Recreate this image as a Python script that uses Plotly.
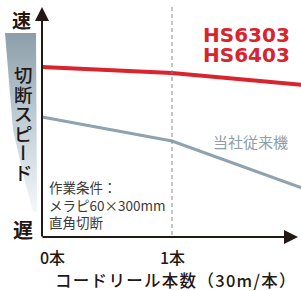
import plotly.graph_objects as go

# ---- data ----
reels = [0, 1, 2]
tick_labels = ["0本", "1本", "2本"]
new_speed = [74.9, 72.2, 67.0]      # HS6303 / HS6403
old_speed = [52.9, 42.3, 21.6]      # 当社従来機
series_names = ["HS6303", "HS6403"]
old_name = "当社従来機"
cond_lines = ["作業条件：", "メラピ60×300mm", "直角切断"]
y_title_chars = ["切", "断", "ス", "ピ", "ー", "ド"]
x_title = "コードリール本数（30m/本）"

RED = "#d9232d"
GRAY = "#8fa2b0"
INK = "#231815"
JP = "Noto Sans CJK JP"

W, H = 301, 291
fig = go.Figure()

# gradient wedge (decoration, pixel space)
fig.add_trace(go.Scatter(
    x=[5, 36, 37, 33, 25, 13, 5], y=[33, 33, 212, 212, 182, 130, 33],
    xaxis="x2", yaxis="y2", mode="lines", line=dict(width=0),
    fill="toself",
    fillgradient=dict(type="vertical",
                      colorscale=[[0, "#f5f8f9"], [0.55, "#bccad2"], [1, "#8c9eaa"]]),
    hoverinfo="skip", showlegend=False))

# data lines
fig.add_trace(go.Scatter(x=reels, y=old_speed, mode="lines",
                         line=dict(color=GRAY, width=3), showlegend=False,
                         hoverinfo="skip"))
fig.add_trace(go.Scatter(x=reels, y=new_speed, mode="lines",
                         line=dict(color=RED, width=4), showlegend=False,
                         hoverinfo="skip"))

# mapping: x=0 -> px 42, 130 px per reel; y=0 -> py 237, 2.27 px per unit
fig.update_layout(
    width=W, height=H, margin=dict(l=0, r=0, t=0, b=0),
    paper_bgcolor="white", plot_bgcolor="white",
    xaxis=dict(range=[-42 / 130, 259 / 130], visible=False, fixedrange=True),
    yaxis=dict(range=[-54 / 2.27, 237 / 2.27], visible=False, fixedrange=True),
    xaxis2=dict(range=[0, W], overlaying="x", visible=False, fixedrange=True),
    yaxis2=dict(range=[H, 0], overlaying="y", visible=False, fixedrange=True),
    showlegend=False,
)

shapes = [
    dict(type="line", xref="x", yref="y2", x0=reels[1], x1=reels[1], y0=7, y1=236,
         line=dict(color="#8a8a8a", width=1, dash="4px,3px")),
]
fig.update_layout(shapes=shapes)

ann = []
# axes arrows
ann.append(dict(xref="x2", yref="y2", axref="x2", ayref="y2", x=42, y=7, ax=42, ay=238,
                text="", showarrow=True, arrowhead=2, arrowsize=1.4, arrowwidth=2,
                arrowcolor=INK))
ann.append(dict(xref="x2", yref="y2", axref="x2", ayref="y2", x=298, y=237, ax=41, ay=237,
                text="", showarrow=True, arrowhead=2, arrowsize=1.4, arrowwidth=2,
                arrowcolor=INK))

# y axis words
ann.append(dict(xref="x2", yref="y2", x=21, y=19, text="速", showarrow=False,
                font=dict(family=JP, size=19, color=INK, weight=700)))
ann.append(dict(xref="x2", yref="y2", x=23, y=229, text="遅", showarrow=False,
                font=dict(family=JP, size=20, color=INK, weight=700)))

def big(ch, px, extra=""):
    return '<span style="font-size:%spx;%s">%s</span>' % (px, extra, ch)

vert_parts = []
for ch in y_title_chars:
    extra = "font-feature-settings:'vert' 1" if ch == "ー" else ""
    vert_parts.append(big(ch, 18.5, extra))
ann.append(dict(xref="x2", yref="y2", x=23, y=123, text="<br>".join(vert_parts),
                showarrow=False, yanchor="middle",
                font=dict(family=JP, size=15, color=INK, weight=500)))

# series labels
ann.append(dict(xref="x2", yref="y2", x=292, y=45,
                text="<br>".join(big(n, 20) for n in series_names),
                showarrow=False, xanchor="right", align="right", yanchor="middle",
                font=dict(family="DejaVu Sans", size=15.4, color=RED, weight=700)))
ann.append(dict(xref="x2", yref="y2", x=250, y=141, text=old_name, showarrow=False,
                font=dict(family=JP, size=15, color="#8d9eab")))

# conditions
for line, yy in zip(cond_lines, [187, 204.5, 222]):
    ann.append(dict(xref="x2", yref="y2", x=47, y=yy, text=line, showarrow=False,
                    xanchor="left",
                    font=dict(family=JP, size=13.5, color="#3a3a3a")))

# x tick labels (positioned on data x)
anchors = ["left", "center", "right"]
shifts = [-4, 0, 0]
for xv, lab, a, s in zip(reels, tick_labels, anchors, shifts):
    ann.append(dict(xref="x", yref="y2", x=xv, y=257, text=lab, showarrow=False,
                    xanchor=a, xshift=s,
                    font=dict(family=JP, size=16, color=INK, weight=500)))

# x title
ann.append(dict(xref="x2", yref="y2", x=176, y=279.5,
                text='<span style="letter-spacing:1.3px">%s</span>' % x_title,
                showarrow=False,
                font=dict(family=JP, size=16.5, color=INK, weight=500)))

fig.update_layout(annotations=ann)
fig.write_html("out.html", config={"displayModeBar": False},
               post_script="document.body.style.margin='0';document.body.style.padding='0';")
